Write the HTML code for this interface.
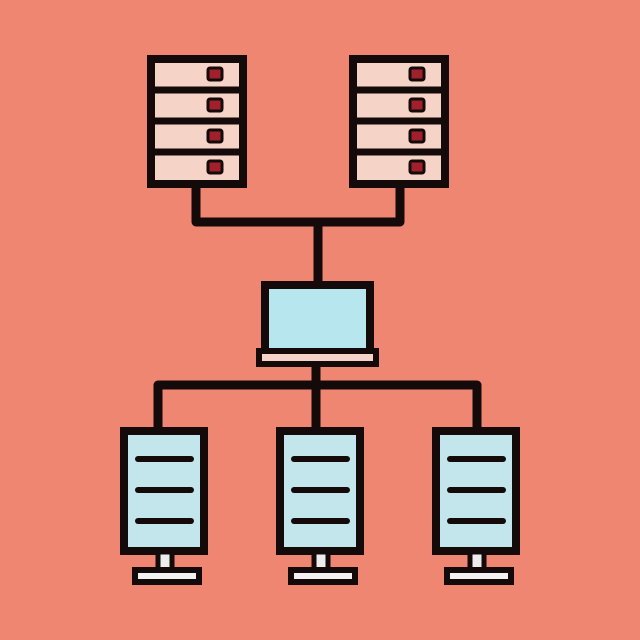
<!DOCTYPE html>
<html><head><style>html,body{margin:0;padding:0;background:#EF8672;overflow:hidden;width:640px;height:640px;}svg{display:block;}</style></head>
<body>
<svg width="640" height="640" viewBox="0 0 640 640" xmlns="http://www.w3.org/2000/svg">
<rect width="640" height="640" fill="#EF8672"/>
<g stroke="#140a0a" stroke-linecap="round" stroke-linejoin="round" fill="none">
<path d="M196 185 V222 H400 V185" stroke-width="9"/>
<path d="M318 222 V285" stroke-width="9"/>
<path d="M316 362 V430 M158 430 V385 H477 V430" stroke-width="9"/>
</g>
<g id="ts">
<rect x="151" y="59" width="92" height="125" fill="#F5D3C6" stroke="#140a0a" stroke-width="8"/>
<g stroke="#140a0a" stroke-width="7"><line x1="151" y1="90" x2="243" y2="90"/><line x1="151" y1="121" x2="243" y2="121"/><line x1="151" y1="152" x2="243" y2="152"/></g>
<g fill="#A0212C" stroke="#140a0a" stroke-width="3">
<rect x="208" y="68" width="14" height="12" rx="2"/><rect x="208" y="99" width="14" height="12" rx="2"/><rect x="208" y="130" width="14" height="12" rx="2"/><rect x="208" y="161" width="14" height="12" rx="2"/></g>
</g>
<use href="#ts" x="202"/>
<rect x="265" y="285" width="105" height="67" fill="#B8E6EE" stroke="#140a0a" stroke-width="8"/>
<rect x="259" y="351" width="117" height="13" fill="#F5D3C6" stroke="#140a0a" stroke-width="6"/>
<g id="bs">
<rect x="124" y="431" width="80" height="120" fill="#C3E6EC" stroke="#140a0a" stroke-width="8"/>
<g stroke="#140a0a" stroke-width="6" stroke-linecap="round"><line x1="138" y1="459" x2="191" y2="459"/><line x1="138" y1="490" x2="191" y2="490"/><line x1="138" y1="521" x2="191" y2="521"/></g>
<rect x="158" y="552" width="14" height="19" fill="#EDEDED" stroke="#140a0a" stroke-width="5"/>
<rect x="135" y="570" width="64" height="12" fill="#F2F2F2" stroke="#140a0a" stroke-width="6"/>
</g>
<use href="#bs" x="156"/>
<use href="#bs" x="312"/>
</svg>
</body></html>
